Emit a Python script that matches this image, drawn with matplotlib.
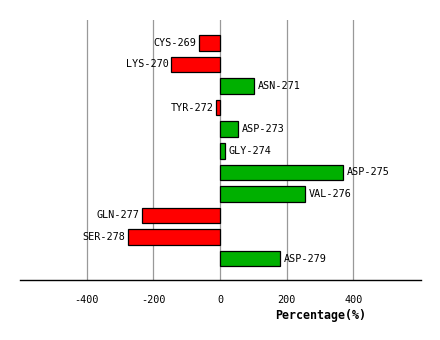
import matplotlib
matplotlib.use('Agg')
import matplotlib.pyplot as plt

residues = ['CYS-269', 'LYS-270', 'ASN-271', 'TYR-272', 'ASP-273', 'GLY-274',
            'ASP-275', 'VAL-276', 'GLN-277', 'SER-278', 'ASP-279']
values = [-64, -146, 101, -11, 53, 14, 368, 254, -233, -275, 179]
xticks = [-400, -200, 0, 200, 400]

plt.rcParams['font.family'] = 'DejaVu Sans Mono'
plt.rcParams['axes.unicode_minus'] = False

fig = plt.figure(figsize=(4.4, 3.4), dpi=100)
ax = fig.add_axes([20/440, 1 - 280/340, 401/440, 260/340])

pos = list(range(len(residues)))
colors = ['#00b000' if v > 0 else '#ff0000' for v in values]
ax.barh(pos, values, height=0.72, color=colors, edgecolor='black', linewidth=0.9, zorder=3)

for y, v, name in zip(pos, values, residues):
    if v > 0:
        ax.annotate(name, (v, y), xytext=(3, 0), textcoords='offset points',
                    ha='left', va='center', fontsize=7.3, zorder=4)
    else:
        ax.annotate(name, (v, y), xytext=(-2, 0), textcoords='offset points',
                    ha='right', va='center', fontsize=7.3, zorder=4)

ax.set_xlim(-600, 603)
ax.set_ylim(10.99, -1.06)
ax.set_xticks(xticks)
ax.set_xticklabels([str(t) for t in xticks], fontsize=7.3)
ax.tick_params(axis='x', length=0, pad=11)
ax.set_yticks([])
for t in xticks:
    ax.axvline(t, color='#999999', linewidth=0.9, zorder=1)

for s in ['top', 'left', 'right']:
    ax.spines[s].set_visible(False)
ax.spines['bottom'].set_linewidth(1.0)

fig.text(321/440, 1 - 316/340, 'Percentage(%)', ha='center', va='center',
         fontsize=8.4, fontweight='bold')

fig.savefig('out.png', dpi=100)
